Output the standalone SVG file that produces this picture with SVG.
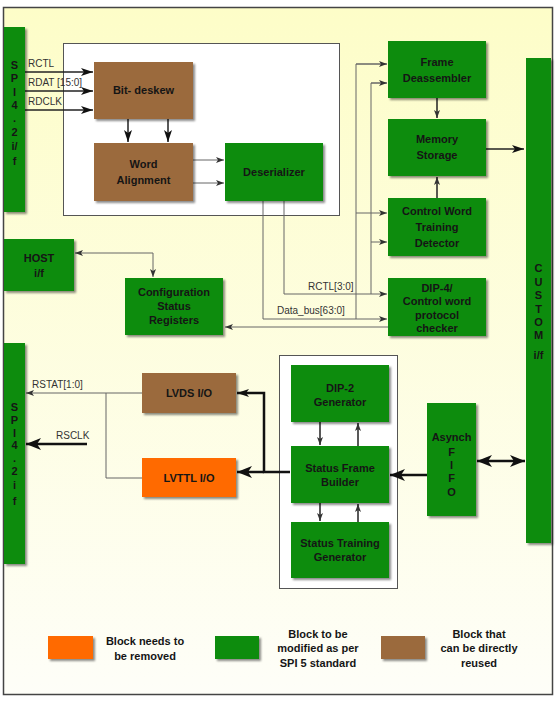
<svg xmlns="http://www.w3.org/2000/svg" width="560" height="704" viewBox="0 0 560 704">
<defs>
<linearGradient id="bg" x1="0" y1="0" x2="0" y2="1">
<stop offset="0" stop-color="#fdfdc8"/>
<stop offset="1" stop-color="#fefef8"/>
</linearGradient>
<filter id="sh" x="-10%" y="-10%" width="130%" height="130%">
<feDropShadow dx="2" dy="2" stdDeviation="1.2" flood-color="#000" flood-opacity="0.45"/>
</filter>
<marker id="a" markerUnits="userSpaceOnUse" markerWidth="10" markerHeight="8" refX="8" refY="3" orient="auto-start-reverse">
<path d="M0,0 L8,3 L0,6 L2,3 z" fill="#333"/>
</marker>
<marker id="m" markerUnits="userSpaceOnUse" markerWidth="14" markerHeight="10" refX="12" refY="4" orient="auto-start-reverse">
<path d="M0,0 L12,4 L0,8 L3,4 z" fill="#111"/>
</marker>
<marker id="b" markerUnits="userSpaceOnUse" markerWidth="16" markerHeight="14" refX="15" refY="6" orient="auto-start-reverse">
<path d="M0,0 L15,6 L0,12 L4,6 z" fill="#111"/>
</marker>
</defs>
<style>
.g{fill:#0b8c0b;filter:url(#sh)}
.br{fill:#9b6b3d;filter:url(#sh)}
.or{fill:#ff6a00;filter:url(#sh)}
.t{font-family:"Liberation Sans",Arial,sans-serif;font-weight:bold;font-size:11px;fill:#151515;text-anchor:middle}
.l{font-family:"Liberation Sans",Arial,sans-serif;font-size:10px;fill:#333}
.thin{stroke:#666;stroke-width:1;fill:none}
.med{stroke:#222;stroke-width:1.5;fill:none}
.thk{stroke:#111;stroke-width:2.5;fill:none}
.box{fill:#fff;stroke:#555;stroke-width:1}
</style>
<rect x="3.5" y="7.5" width="549" height="687" fill="url(#bg)" stroke="#444" stroke-width="1.5"/>
<rect class="box" x="63.5" y="43.5" width="276" height="172"/>
<rect class="box" x="279.5" y="355.5" width="118" height="233"/>

<g id="connectors">
<line class="med" x1="25" y1="72" x2="93" y2="72" marker-end="url(#m)"/>
<line class="med" x1="25" y1="91" x2="93" y2="91" marker-end="url(#m)"/>
<line class="med" x1="25" y1="110" x2="93" y2="110" marker-end="url(#m)"/>
<line class="med" x1="128" y1="119" x2="128" y2="142" marker-end="url(#m)"/>
<line class="med" x1="168" y1="119" x2="168" y2="142" marker-end="url(#m)"/>
<line class="thin" x1="193" y1="160" x2="224" y2="160" marker-end="url(#a)"/>
<line class="thin" x1="193" y1="183" x2="224" y2="183" marker-end="url(#a)"/>
<polyline class="thin" points="284,201 284,294 387,294" marker-end="url(#a)"/>
<polyline class="thin" points="263,201 263,319 387,319" marker-end="url(#a)"/>
<polyline class="thin" points="387,64 356,64 356,319"/>
<polyline class="thin" points="387,83 371,83 371,294"/>
<line class="thin" x1="356" y1="64" x2="387" y2="64" marker-end="url(#a)"/>
<line class="thin" x1="371" y1="83" x2="387" y2="83" marker-end="url(#a)"/>
<line class="thin" x1="356" y1="213" x2="387" y2="213" marker-end="url(#a)"/>
<line class="thin" x1="371" y1="242" x2="387" y2="242" marker-end="url(#a)"/>
<line class="med" x1="437" y1="98" x2="437" y2="118" marker-end="url(#a)"/>
<line class="med" x1="437" y1="198" x2="437" y2="177" marker-end="url(#a)"/>
<line class="med" x1="486" y1="149" x2="524" y2="149" marker-end="url(#m)"/>
<line class="thin" x1="388" y1="327" x2="225" y2="327" marker-end="url(#a)"/>
<polyline class="thin" points="75,253 153,253 153,277" marker-start="url(#a)" marker-end="url(#a)"/>
<line class="thin" x1="142" y1="393" x2="26" y2="393" marker-end="url(#a)"/>
<polyline class="thin" points="106,393 106,478 142,478"/>
<line class="thk" x1="87" y1="444" x2="26" y2="444" marker-end="url(#b)"/>
<polyline class="thk" points="290,472 264,472 264,393 237,393" marker-end="url(#m)"/>
<line class="thk" x1="264" y1="472" x2="237" y2="472" marker-end="url(#b)"/>
<line class="med" x1="320" y1="422" x2="320" y2="445" marker-end="url(#a)"/>
<line class="med" x1="358" y1="446" x2="358" y2="423" marker-end="url(#a)"/>
<line class="med" x1="320" y1="503" x2="320" y2="521" marker-end="url(#a)"/>
<line class="med" x1="358" y1="522" x2="358" y2="504" marker-end="url(#a)"/>
<line class="thk" x1="427" y1="475" x2="390" y2="475" marker-end="url(#b)"/>
<line class="thk" x1="477" y1="461" x2="525" y2="461" marker-start="url(#b)" marker-end="url(#b)"/>
<text class="l" x="28" y="67">RCTL</text>
<text class="l" x="28" y="86">RDAT [15:0]</text>
<text class="l" x="28" y="105">RDCLK</text>
<text class="l" x="308" y="290">RCTL[3:0]</text>
<text class="l" x="277" y="314">Data_bus[63:0]</text>
<text class="l" x="32" y="388">RSTAT[1:0]</text>
<text class="l" x="56" y="439">RSCLK</text>
</g>

<g id="spi_rx">
<rect class="g" x="4" y="27" width="21" height="185"/>
<text class="t" x="14.5" y="69">S</text>
<text class="t" x="14.5" y="82">P</text>
<text class="t" x="14.5" y="96">I</text>
<text class="t" x="14.5" y="109">4</text>
<text class="t" x="14.5" y="122">.</text>
<text class="t" x="14.5" y="136">2</text>
<text class="t" x="14.5" y="150">i/</text>
<text class="t" x="14.5" y="165">f</text>
</g>
<g id="bit_deskew">
<rect class="br" x="94" y="62" width="99" height="57"/>
<text class="t" x="143.5" y="94">Bit- deskew</text>
</g>
<g id="word_alignment">
<rect class="br" x="94" y="143" width="99" height="58"/>
<text class="t" x="143.5" y="168">Word</text>
<text class="t" x="143.5" y="184">Alignment</text>
</g>
<g id="deserializer">
<rect class="g" x="225" y="143" width="98" height="58"/>
<text class="t" x="274" y="176">Deserializer</text>
</g>
<g id="frame_deassembler">
<rect class="g" x="388" y="41" width="98" height="57"/>
<text class="t" x="437" y="66">Frame</text>
<text class="t" x="437" y="82">Deassembler</text>
</g>
<g id="memory_storage">
<rect class="g" x="388" y="119" width="98" height="57"/>
<text class="t" x="437" y="143">Memory</text>
<text class="t" x="437" y="159">Storage</text>
</g>
<g id="cw_training_detector">
<rect class="g" x="388" y="198" width="98" height="58"/>
<text class="t" x="437" y="215">Control Word</text>
<text class="t" x="437" y="231">Training</text>
<text class="t" x="437" y="247">Detector</text>
</g>
<g id="dip4_checker">
<rect class="g" x="388" y="278" width="98" height="58"/>
<text class="t" x="437" y="292">DIP-4/</text>
<text class="t" x="437" y="305">Control word</text>
<text class="t" x="437" y="319">protocol</text>
<text class="t" x="437" y="332">checker</text>
</g>
<g id="custom_if">
<rect class="g" x="526" y="58" width="25" height="485"/>
<text class="t" x="538.5" y="272">C</text>
<text class="t" x="538.5" y="286">U</text>
<text class="t" x="538.5" y="299">S</text>
<text class="t" x="538.5" y="313">T</text>
<text class="t" x="538.5" y="326">O</text>
<text class="t" x="538.5" y="339">M</text>
<text class="t" x="538.5" y="359">i/f</text>
</g>
<g id="host_if">
<rect class="g" x="4" y="239" width="70" height="52"/>
<text class="t" x="39" y="262">HOST</text>
<text class="t" x="39" y="277">i/f</text>
</g>
<g id="config_status_registers">
<rect class="g" x="125" y="278" width="98" height="57"/>
<text class="t" x="174" y="296">Configuration</text>
<text class="t" x="174" y="310">Status</text>
<text class="t" x="174" y="324">Registers</text>
</g>
<g id="spi_tx">
<rect class="g" x="4" y="343" width="21" height="221"/>
<text class="t" x="14.5" y="411">S</text>
<text class="t" x="14.5" y="424">P</text>
<text class="t" x="14.5" y="437">I</text>
<text class="t" x="14.5" y="449">4</text>
<text class="t" x="14.5" y="462">.</text>
<text class="t" x="14.5" y="475">2</text>
<text class="t" x="14.5" y="489">i</text>
<text class="t" x="14.5" y="505">f</text>
</g>
<g id="lvds_io">
<rect class="br" x="142" y="373" width="94" height="40"/>
<text class="t" x="189" y="397">LVDS I/O</text>
</g>
<g id="lvttl_io">
<rect class="or" x="142" y="458" width="94" height="39"/>
<text class="t" x="189" y="482">LVTTL I/O</text>
</g>
<g id="dip2_generator">
<rect class="g" x="291" y="365" width="98" height="57"/>
<text class="t" x="340" y="392">DIP-2</text>
<text class="t" x="340" y="406">Generator</text>
</g>
<g id="status_frame_builder">
<rect class="g" x="291" y="446" width="98" height="57"/>
<text class="t" x="340" y="472">Status Frame</text>
<text class="t" x="340" y="486">Builder</text>
</g>
<g id="status_training_generator">
<rect class="g" x="291" y="522" width="98" height="56"/>
<text class="t" x="340" y="547">Status Training</text>
<text class="t" x="340" y="561">Generator</text>
</g>
<g id="asynch_fifo">
<rect class="g" x="427" y="403" width="49" height="113"/>
<text class="t" x="451.5" y="441">Asynch</text>
<text class="t" x="451.5" y="456">F</text>
<text class="t" x="451.5" y="469">I</text>
<text class="t" x="451.5" y="482">F</text>
<text class="t" x="451.5" y="496">O</text>
</g>
<g id="legend">
<rect class="or" x="48" y="636" width="45" height="23"/>
<text class="t" x="145" y="645">Block needs to</text>
<text class="t" x="145" y="660">be removed</text>
<rect class="g" x="215" y="636" width="44" height="23"/>
<text class="t" x="318" y="638">Block to be</text>
<text class="t" x="318" y="652">modified as per</text>
<text class="t" x="318" y="667">SPI 5 standard</text>
<rect class="br" x="381" y="636" width="44" height="23"/>
<text class="t" x="479" y="638">Block that</text>
<text class="t" x="479" y="652">can be directly</text>
<text class="t" x="479" y="667">reused</text>
</g>
</svg>
